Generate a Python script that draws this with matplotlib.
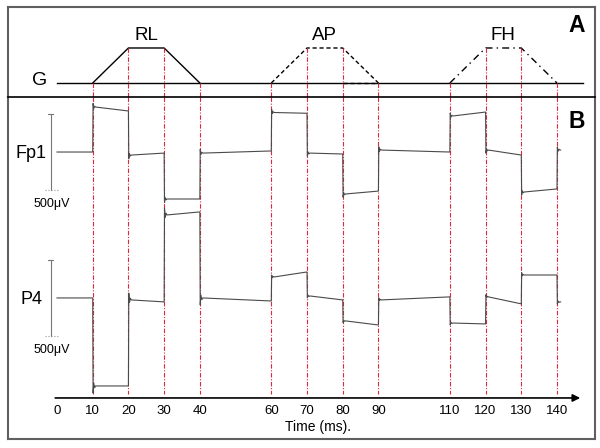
import numpy as np
import matplotlib
matplotlib.use("Agg")
import matplotlib.pyplot as plt

plt.rcParams['font.family'] = ['Liberation Sans', 'DejaVu Sans']

# event times (ms) where the head movement phases change
event_times = [0, 10, 20, 30, 40, 60, 70, 80, 90, 110, 120, 130, 140, 141]
tick_times = [0, 10, 20, 30, 40, 60, 70, 80, 90, 110, 120, 130, 140]
red_times = [10, 20, 30, 40, 60, 70, 80, 90, 110, 120, 130, 140]

# movement profiles in panel A (level 0 = G line, 1 = plateau)
move_names = ['RL', 'AP', 'FH']
move_times = [[10, 20, 30, 40], [60, 70, 80, 90], [110, 120, 130, 140]]
move_levels = [0, 1, 1, 0]

# signal level (uV) at start / end of each segment between events
fp1_start = [0, 296, -20, -309, -7, 260, -7, -276, 13, 237, 13, -263, 13]
fp1_end = [0, 270, -7, -309, 7, 255, -13, -257, 0, 263, -20, -243, 13]
p4_start = [0, -579, -13, 546, 0, 138, 13, -151, -13, -165, 7, 151, -26]
p4_end = [0, -579, -26, 566, -20, 171, -13, -178, 7, -171, -39, 151, -26]

FP1_OFF = 0
P4_OFF = -960


def build_trace(starts, ends, off):
    t, v = [], []
    for i in range(len(starts)):
        t0, t1 = event_times[i], event_times[i + 1]
        if i == 0:
            t.append(t0)
            v.append(starts[0])
        else:
            jump = starts[i] - ends[i - 1]
            t += [t0 + 0.1, t0 + 0.3, t0 + 0.55, t0 + 0.8]
            v += [starts[i] + 0.08 * jump, starts[i] - 0.03 * jump,
                  starts[i] + 0.02 * jump, starts[i]]
        t.append(t1)
        v.append(ends[i])
    return np.array(t), np.array(v) + off


fig = plt.figure(figsize=(6, 4.48), dpi=100)
px = 1 / 600.0
py = 1 / 448.0
axA = fig.add_axes([8 * px, 1 - 97 * py, 587 * px, 90 * py])
axB = fig.add_axes([8 * px, 1 - 439 * py, 587 * px, 342 * py])

xlim = (-13.72, 150.64)
red_style = dict(color='#e0283a', lw=0.8, ls=(0, (4, 1.5, 1, 1.5)))

# ---- panel A
axA.set_xlim(*xlim)
axA.set_ylim(-0.4, 2.171)
axA.plot([0, 147.3], [0, 0], color='black', lw=1)
styles = ['-', (0, (3, 2)), (0, (5, 3, 1, 3))]
for name, mt, st in zip(move_names, move_times, styles):
    axA.plot(mt, move_levels, color='black', lw=1, ls=st)
    axA.text(np.mean(mt), 1.23, name, fontsize=13.5, ha='center', va='baseline')
axA.plot([80, 90], [0, 0], color='black', lw=1, ls=(0, (3, 2)))
axA.text(-5.0, -0.057, 'G', fontsize=14, ha='center', va='baseline')
axA.text(145.6, 1.466, 'A', fontsize=16.5, fontweight='bold', ha='center', va='baseline')
for t in red_times:
    lev = 1 if any(t in mt[1:3] for mt in move_times) else 0
    axA.plot([t, t], [lev, -0.4], **red_style)

# ---- panel B
axB.set_xlim(*xlim)
axB.set_ylim(-1888, 362)
for t in red_times:
    axB.plot([t, t], [362, -1590], **red_style)

for s, e, off in [(fp1_start, fp1_end, FP1_OFF), (p4_start, p4_end, P4_OFF)]:
    tt, vv = build_trace(s, e, off)
    axB.plot(tt, vv, color='#4a4a4a', lw=0.8)

# scale bars
for off, lab in [(FP1_OFF, 'Fp1'), (P4_OFF, 'P4')]:
    axB.plot([-1.7, -1.7], [off - 250, off + 250], color='#777777', lw=0.8)
    axB.plot([-2.4, -1.0], [off + 250, off + 250], color='#777777', lw=0.8)
    axB.plot([-3.5, 0.3], [off - 250, off - 250], color='#999999', lw=0.8, ls=':')
    axB.text(-1.4, off - 360, '500\u03bcV', fontsize=9, ha='center', va='baseline')
    axB.text(-7.2, off - 42, lab, fontsize=13, ha='center', va='baseline')

axB.text(145.6, 158, 'B', fontsize=16.5, fontweight='bold', ha='center', va='baseline')

# time axis with arrow
axis_y = -1618
axB.annotate('', xy=(146.5, axis_y), xytext=(-0.5, axis_y),
             arrowprops=dict(arrowstyle='-|>', color='black', lw=1.2,
                             mutation_scale=11, shrinkA=0, shrinkB=0))
for t in tick_times:
    axB.text(t, -1724, str(t), fontsize=9.5, ha='center', va='baseline')
axB.text(73, -1836, 'Time (ms).', fontsize=10, ha='center', va='baseline')

for ax in (axA, axB):
    ax.set_xticks([])
    ax.set_yticks([])
    for sp in ax.spines.values():
        sp.set_color('#606060')
        sp.set_linewidth(1.5)
axA.spines['bottom'].set_visible(False)
axB.spines['top'].set_color('black')
axB.spines['top'].set_linewidth(1.2)

fig.savefig('out.png', dpi=100)
